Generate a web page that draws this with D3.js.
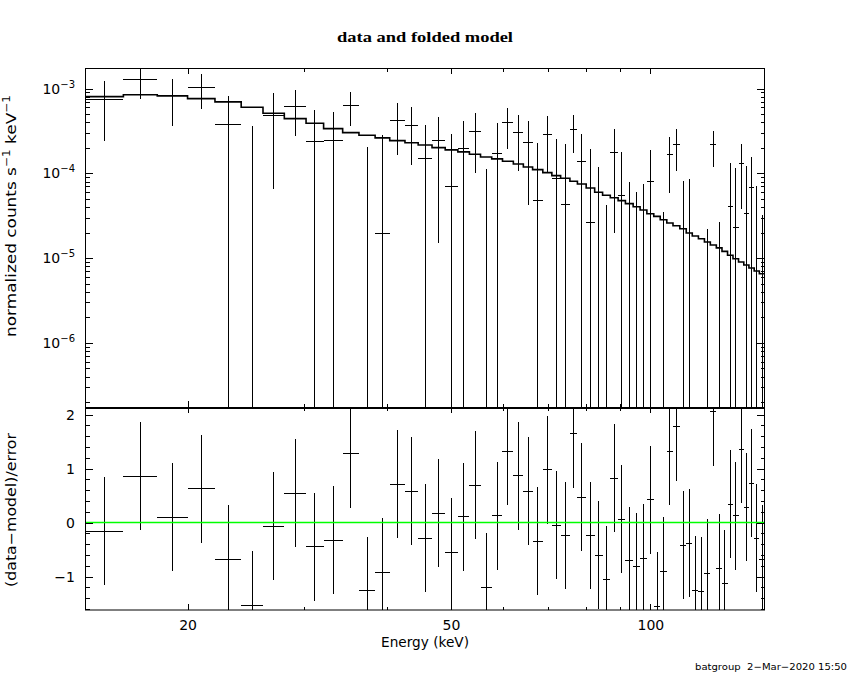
<!DOCTYPE html>
<html lang="en">
<head>
<meta charset="UTF-8">
<title>data and folded model</title>
<script src="https://d3js.org/d3.v7.min.js"></script>
<style>
  body { margin: 0; background: #fff; }
  text { fill: #000; }
</style>
</head>
<body>
<script>
// energy bin edges (keV), one more than the number of bins
var edges = [14, 16, 18, 20, 22, 24.1, 26, 28, 30.2, 32.1,
  34.3, 36.3, 38.4, 40.4, 42.6, 44.6, 46.8, 49, 51.2, 53.3,
  55.4, 57.6, 59.8, 62.1, 64.3, 66.4, 68.8, 71, 73.2, 75.6,
  77.6, 80, 82.4, 84.7, 87, 89.4, 91.7, 94.2, 96.5, 98.8,
  101.2, 103.5, 105.9, 108.2, 110.8, 113.3, 115.7, 118.2, 120.7, 123.2,
  125.8, 128.3, 130.8, 133.3, 135.9, 138.4, 140.9, 143.5, 146.1, 149];

// normalized counts s^-1 keV^-1
var rate = [7.36e-4, 1.27e-3, 8.34e-4, 1.03e-3, 3.80e-4, -8.2e-5, 4.80e-4, 6.20e-4, 2.37e-4, 2.41e-4,
  6.40e-4, -1.03e-4, 1.93e-5, 4.24e-4, 3.65e-4, 1.51e-4, 2.41e-4, 6.91e-5, 1.98e-4, 3.10e-4,
  -1.04e-4, 1.71e-4, 3.93e-4, 3.00e-4, 2.29e-4, 4.81e-5, 2.89e-4, 8.76e-5, 4.32e-5, 3.32e-4,
  1.39e-4, 2.65e-5, -3.0e-5, -1.08e-4, 1.77e-4, 5.51e-5, -6.0e-5, -4.9e-5, -3.4e-5, 7.92e-5,
  -1.4e-4, -7.0e-5, 1.65e-4, 2.20e-4, -2.1e-5, -2.1e-5, -1.07e-4, -1.1e-4, -7.8e-5, 2.20e-4,
  -6.2e-5, -1.0e-4, 4.09e-5, 2.27e-5, 1.30e-4, 3.32e-5, 6.85e-5, -1.9e-5, -4.6e-5];

var rateErr = [4.97e-4, 5.1e-4, 4.68e-4, 4.58e-4, 4.40e-4, 4.48e-4, 4.15e-4, 3.44e-4, 3.24e-4, 2.89e-4,
  2.74e-4, 3.07e-4, 2.63e-4, 2.60e-4, 2.40e-4, 2.22e-4, 2.26e-4, 2.23e-4, 2.18e-4, 2.10e-4,
  2.17e-4, 2.26e-4, 2.00e-4, 1.93e-4, 1.87e-4, 1.80e-4, 1.87e-4, 1.67e-4, 1.79e-4, 1.57e-4,
  1.53e-4, 1.68e-4, 1.49e-4, 1.50e-4, 1.57e-4, 1.25e-4, 1.40e-4, 1.10e-4, 1.09e-4, 1.10e-4,
  1.10e-4, 1.05e-4, 1.07e-4, 1.13e-4, 1.03e-4, 1.07e-4, 1.0e-4, 1.0e-4, 1.0e-4, 1.0e-4,
  8.9e-5, 1.0e-4, 9.3e-5, 9.4e-5, 9.2e-5, 8.9e-5, 8.9e-5, 9.0e-5, 7.8e-5];

// folded model, one value per bin
var model = [8.04e-4, 8.47e-4, 8.20e-4, 7.62e-4, 6.97e-4, 6.03e-4, 5.12e-4, 4.42e-4, 3.90e-4, 3.37e-4,
  3.02e-4, 2.82e-4, 2.62e-4, 2.43e-4, 2.30e-4, 2.16e-4, 2.01e-4, 1.89e-4, 1.79e-4, 1.68e-4,
  1.56e-4, 1.48e-4, 1.39e-4, 1.29e-4, 1.19e-4, 1.106e-4, 1.02e-4, 9.39e-5, 8.75e-5, 8.07e-5,
  7.49e-5, 6.72e-5, 5.98e-5, 5.51e-5, 5.16e-5, 4.76e-5, 4.39e-5, 4.04e-5, 3.70e-5, 3.34e-5,
  3.11e-5, 2.84e-5, 2.60e-5, 2.41e-5, 2.22e-5, 1.98e-5, 1.82e-5, 1.69e-5, 1.55e-5, 1.43e-5,
  1.32e-5, 1.20e-5, 1.08e-5, 9.84e-6, 8.99e-6, 8.29e-6, 7.64e-6, 7.04e-6, 6.54e-6];

// (data-model)/error
var resid = [-0.16, 0.86, 0.10, 0.63, -0.68, -1.53, -0.07, 0.54, -0.45, -0.33,
  1.27, -1.26, -0.92, 0.71, 0.58, -0.29, 0.17, -0.55, 0.11, 0.69,
  -1.20, 0.13, 1.32, 0.87, 0.58, -0.35, 0.98, -0.05, -0.24, 1.64,
  0.47, -0.24, -0.61, -1.06, 0.82, 0.06, -0.71, -0.82, -0.66, 0.42,
  -1.55, -0.90, 1.32, 1.77, -0.42, -0.38, -1.25, -1.27, -0.94, 2.05,
  -0.85, -1.13, 0.34, 0.13, 1.36, 0.28, 0.73, -0.29, -0.68];

var xMajor = [20, 50, 100];
var xMinor = [30, 40, 60, 70, 80, 90];
var yMajor = [1e-3, 1e-4, 1e-5, 1e-6];
var rMajor = [-1, 0, 1, 2];

var width = 850, height = 680;
var left = 85, right = 765, top1 = 68, mid = 407, bot = 610;
var font = "DejaVu Sans, sans-serif";

var svg = d3.select("body").append("svg")
  .attr("width", width).attr("height", height)
  .style("background", "#fff");

var x = d3.scaleLog().domain([14, 149]).range([left, right]);
var yTop = d3.scaleLog().domain([1.75e-7, 1.75e-3]).range([mid, top1]);
var yRes = d3.scaleLinear().domain([-1.62, 2.14]).range([bot, mid]);

var yMinor = [];
[1e-7, 1e-6, 1e-5, 1e-4].forEach(function (p) {
  for (var k = 2; k <= 9; k++) yMinor.push(k * p);
});
var rMinor = d3.range(-16, 21, 2).map(function (d) { return d / 10; })
  .filter(function (d) { return rMajor.indexOf(d) < 0; });

var bins = rate.map(function (v, i) {
  return { lo: edges[i], hi: edges[i + 1], c: (edges[i] + edges[i + 1]) / 2,
    v: v, e: rateErr[i], r: resid[i] };
});

// clip regions
var defs = svg.append("defs");
defs.append("clipPath").attr("id", "clipTop").append("rect")
  .attr("x", left).attr("y", top1).attr("width", right - left).attr("height", mid - top1);
defs.append("clipPath").attr("id", "clipBot").append("rect")
  .attr("x", left).attr("y", mid).attr("width", right - left).attr("height", bot - mid);

// ---- top panel: data ----
var gTop = svg.append("g").attr("clip-path", "url(#clipTop)")
  .attr("stroke", "#000").attr("stroke-width", 1).attr("shape-rendering", "crispEdges");

gTop.selectAll("line.err").data(bins.filter(function (d) { return d.v + d.e > 0; }))
  .enter().append("line")
  .attr("x1", function (d) { return x(d.c); })
  .attr("x2", function (d) { return x(d.c); })
  .attr("y1", function (d) { return yTop(d.v + d.e); })
  .attr("y2", function (d) { return d.v - d.e > 0 ? yTop(d.v - d.e) : mid + 5; });

gTop.selectAll("line.bin").data(bins.filter(function (d) { return d.v > 0; }))
  .enter().append("line")
  .attr("x1", function (d) { return x(d.lo); })
  .attr("x2", function (d) { return x(d.hi); })
  .attr("y1", function (d) { return yTop(d.v); })
  .attr("y2", function (d) { return yTop(d.v); });

// model histogram
var stepPts = edges.map(function (e, i) { return [e, model[Math.min(i, model.length - 1)]]; });
svg.append("path")
  .attr("clip-path", "url(#clipTop)")
  .attr("d", d3.line().x(function (d) { return x(d[0]); })
    .y(function (d) { return yTop(d[1]); }).curve(d3.curveStepAfter)(stepPts))
  .attr("fill", "none").attr("stroke", "#000").attr("stroke-width", 1.6);

// ---- bottom panel: residuals ----
var gBot = svg.append("g").attr("clip-path", "url(#clipBot)")
  .attr("stroke", "#000").attr("stroke-width", 1).attr("shape-rendering", "crispEdges");

gBot.selectAll("line.err").data(bins).enter().append("line")
  .attr("x1", function (d) { return x(d.c); })
  .attr("x2", function (d) { return x(d.c); })
  .attr("y1", function (d) { return yRes(d.r + 1); })
  .attr("y2", function (d) { return yRes(d.r - 1); });

gBot.selectAll("line.bin").data(bins).enter().append("line")
  .attr("x1", function (d) { return x(d.lo); })
  .attr("x2", function (d) { return x(d.hi); })
  .attr("y1", function (d) { return yRes(d.r); })
  .attr("y2", function (d) { return yRes(d.r); });

svg.append("line")
  .attr("x1", left).attr("x2", right)
  .attr("y1", yRes(0)).attr("y2", yRes(0))
  .attr("stroke", "#00ff00").attr("stroke-width", 1.4);

// ---- axes ----
function addAxis(gen, tx, ty) {
  var g = svg.append("g").attr("transform", "translate(" + tx + "," + ty + ")")
    .call(gen);
  g.select(".domain").remove();
  g.attr("font-family", font).attr("font-size", 14)
    .attr("shape-rendering", "crispEdges");
  g.selectAll(".tick line").attr("stroke", "#000");
  return g;
}
var noLabel = function () { return ""; };

// x ticks on both panels
[[top1, "top"], [mid, "bottom"], [mid, "top"], [bot, "bottom"]].forEach(function (p, i) {
  var mk = p[1] === "top" ? d3.axisTop : d3.axisBottom;
  var withLabels = i === 3;
  addAxis(mk(x).tickValues(xMajor).tickSize(-6).tickPadding(10)
    .tickFormat(withLabels ? d3.format("d") : noLabel), 0, p[0]);
  addAxis(mk(x).tickValues(xMinor).tickSize(-3.5).tickFormat(noLabel), 0, p[0]);
});

// y ticks, top panel
var yl = addAxis(d3.axisLeft(yTop).tickValues(yMajor).tickSize(-8).tickPadding(10)
  .tickFormat(noLabel), left, 0);
yl.selectAll(".tick text").each(function (d) {
  var t = d3.select(this);
  t.append("tspan").text("10");
  t.append("tspan").attr("dy", -6).attr("font-size", 10)
    .text("\u2212" + Math.round(-Math.log10(d)));
});
addAxis(d3.axisLeft(yTop).tickValues(yMinor).tickSize(-4.5).tickFormat(noLabel), left, 0);
addAxis(d3.axisRight(yTop).tickValues(yMajor).tickSize(-8).tickFormat(noLabel), right, 0);
addAxis(d3.axisRight(yTop).tickValues(yMinor).tickSize(-4.5).tickFormat(noLabel), right, 0);

// y ticks, bottom panel
addAxis(d3.axisLeft(yRes).tickValues(rMajor).tickSize(-8).tickPadding(10)
  .tickFormat(d3.format("d")), left, 0);
addAxis(d3.axisLeft(yRes).tickValues(rMinor).tickSize(-4.5).tickFormat(noLabel), left, 0);
addAxis(d3.axisRight(yRes).tickValues(rMajor).tickSize(-8).tickFormat(noLabel), right, 0);
addAxis(d3.axisRight(yRes).tickValues(rMinor).tickSize(-4.5).tickFormat(noLabel), right, 0);

// frames
svg.append("rect").attr("x", left + 0.5).attr("y", top1 + 0.5)
  .attr("width", right - left - 1).attr("height", mid - top1)
  .attr("fill", "none").attr("stroke", "#000").attr("stroke-width", 1);
svg.append("rect").attr("x", left + 0.5).attr("y", mid + 1.5)
  .attr("width", right - left - 1).attr("height", bot - mid - 1.5)
  .attr("fill", "none").attr("stroke", "#000").attr("stroke-width", 1);

// ---- texts ----
svg.append("text").attr("x", 425).attr("y", 42)
  .attr("text-anchor", "middle")
  .attr("font-family", "Liberation Serif, serif").attr("font-weight", "bold")
  .attr("font-size", 15.5)
  .attr("textLength", 176).attr("lengthAdjust", "spacingAndGlyphs")
  .text("data and folded model");

svg.append("text").attr("x", 425).attr("y", 647)
  .attr("text-anchor", "middle").attr("font-family", font).attr("font-size", 13.5)
  .attr("textLength", 88).attr("lengthAdjust", "spacingAndGlyphs")
  .text("Energy (keV)");

var ylab = svg.append("text")
  .attr("transform", "translate(15.5,216) rotate(-90)")
  .attr("text-anchor", "middle").attr("font-family", font).attr("font-size", 14)
  .attr("textLength", 242).attr("lengthAdjust", "spacingAndGlyphs");
ylab.append("tspan").text("normalized counts s");
ylab.append("tspan").attr("dy", -6).attr("font-size", 10).text("\u22121");
ylab.append("tspan").attr("dy", 6).text("\u00a0keV");
ylab.append("tspan").attr("dy", -6).attr("font-size", 10).text("\u22121");

svg.append("text")
  .attr("transform", "translate(15.5,510) rotate(-90)")
  .attr("text-anchor", "middle").attr("font-family", font).attr("font-size", 14)
  .attr("textLength", 154).attr("lengthAdjust", "spacingAndGlyphs")
  .text("(data\u2212model)/error");

svg.append("text").attr("x", 847).attr("y", 669.5)
  .attr("text-anchor", "end").attr("font-family", font).attr("font-size", 9.5)
  .attr("textLength", 152).attr("lengthAdjust", "spacingAndGlyphs")
  .text("batgroup\u00a0\u00a02\u2212Mar\u22122020 15:50");
</script>
</body>
</html>
